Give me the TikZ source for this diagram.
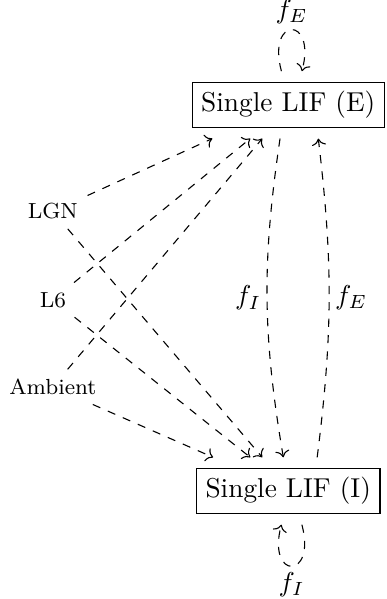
\documentclass[tikz,border=0pt]{standalone}
\usepackage{tikz}
\usetikzlibrary{cd}

\begin{document}
\begin{tikzpicture}[scale=1,
        lif/.style={draw,outer sep=4pt},
        src/.style={font=\footnotesize},
        link/.style={->,>={cm to},dashed},
        lbl/.style={inner sep=2pt}]
        \useasboundingbox (0,0) rectangle (4.97,-7.71);

        % Draw nodes
        \node[lif] (lifE) at (3.71,-1.35) {Single LIF (E)};
        \node[lif] (lifI) at (3.71,-6.32) {Single LIF (I)};
        \node[src] (lgn) at (0.68,-2.72) {LGN};
        \node[src] (l6) at (0.68,-3.86) {L6};
        \node[src] (ambient) at (0.68,-4.98) {Ambient};

        % Draw input edges to E
        \draw[link] (lgn) -- ([xshift=-27.8pt]lifE.south);
        \draw[link] (l6) -- ([xshift=-13.9pt]lifE.south);
        \draw[link] (ambient) -- ([xshift=-9.5pt]lifE.south);

        % Draw input edges to I
        \draw[link] (lgn) -- ([xshift=-9.5pt]lifI.north);
        \draw[link] (l6) -- ([xshift=-13.9pt]lifI.north);
        \draw[link] (ambient) -- ([xshift=-27.5pt]lifI.north);

        % Draw edges between E and I
        \draw[link] ([xshift=-3pt]lifE.south) to[bend right=9] node[left,lbl] {$f_I$} ([xshift=-1.8pt]lifI.north);
        \draw[link] ([xshift=10.6pt]lifI.north) to[bend right=7] node[right,lbl] {$f_E$} ([xshift=11pt]lifE.south);

        % Draw self loops
        \draw[link] ([xshift=-2.5pt]lifE.north) to[out=105,in=75,distance=21pt] node[above,lbl] {$f_E$} ([xshift=5pt]lifE.north);
        \draw[link] ([xshift=5pt]lifI.south) to[out=-75,in=-105,distance=21pt] node[below,lbl] {$f_I$} ([xshift=-2.5pt]lifI.south);
    \end{tikzpicture}
\end{document}
